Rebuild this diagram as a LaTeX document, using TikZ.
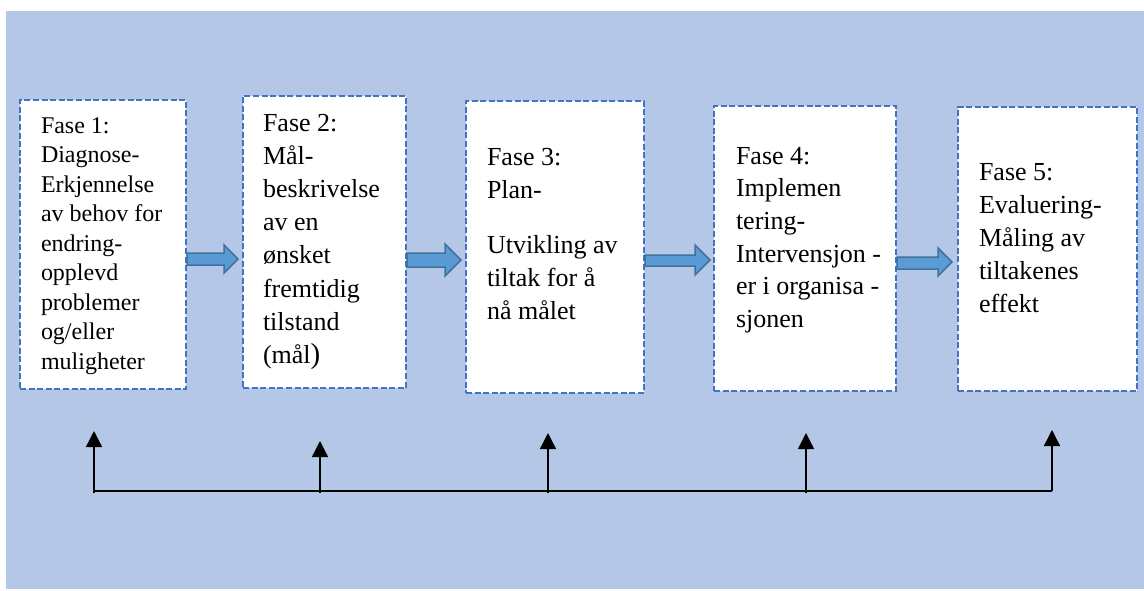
\documentclass[tikz,border=0pt]{standalone}
\usepackage{fontspec}
\setmainfont{Liberation Serif}[Ligatures=TeX]
\newfontfamily\tnr{Liberation Serif}
\usetikzlibrary{arrows.meta}
\definecolor{bgblue}{HTML}{B4C7E7}
\definecolor{boxborder}{HTML}{4472C4}
\definecolor{arrfill}{HTML}{5B9BD5}
\definecolor{arrdraw}{HTML}{41719C}
\tikzset{
  fasebox/.style={draw=boxborder, fill=white, line width=2.6pt, dash pattern=on 6pt off 2.6pt, anchor=north west, inner sep=0pt, outer sep=0pt},
  fasetxt/.style={anchor=base west, inner sep=0pt, outer sep=0pt, font=\tnr},
  barrow/.style={fill=arrfill, draw=arrdraw, line width=1.5pt, line join=miter},
  fb/.style={draw=black, line width=1.4pt},
  fbarrow/.style={fb, -{Triangle[width=16pt,length=16pt]}}
}
\begin{document}
\begin{tikzpicture}[x=1pt,y=-1pt]
\useasboundingbox (0,0) rectangle (1144,590);
\fill[bgblue] (6,11) rectangle (1144,589);

% boxes
\node[fasebox, minimum width=166pt, minimum height=289pt] (b1) at (20,100) {};
\node[fasebox, minimum width=163pt, minimum height=292pt] (b2) at (243,96) {};
\node[fasebox, minimum width=178pt, minimum height=292pt] (b3) at (466,101) {};
\node[fasebox, minimum width=182pt, minimum height=285pt] (b4) at (714,106) {};
\node[fasebox, minimum width=179pt, minimum height=284pt] (b5) at (958,107) {};

% texts
\node[fasetxt] (t1) at (41,133) {\parbox[t]{150pt}{\tnr\fontsize{24}{29.5}\selectfont\raggedright
Fase 1:\\ Diagnose-\\ Erkjennelse\\ av behov for\\ endring-\\ opplevd\\ problemer\\ og/eller\\ muligheter}};
\node[fasetxt] (t2) at (263,131) {\parbox[t]{140pt}{\tnr\fontsize{26}{33.2}\selectfont\raggedright
Fase 2:\\ Mål-\\ beskrivelse\\ av en\\ ønsket\\ fremtidig\\ tilstand\\ (mål{\fontsize{29}{33}\selectfont )}}};
\node[fasetxt] (t3) at (487,165) {\parbox[t]{155pt}{\tnr\fontsize{26}{33}\selectfont\raggedright
Fase 3:\\ Plan-\\[22pt] Utvikling av\\ tiltak for å\\ nå målet}};
\node[fasetxt] (t4) at (736,164) {\parbox[t]{158pt}{\tnr\fontsize{26}{32.7}\selectfont\raggedright
Fase 4:\\ Implemen\\ tering-\\ Intervensjon -\\ er i organisa -\\ sjonen}};
\node[fasetxt] (t5) at (979,180) {\parbox[t]{155pt}{\tnr\fontsize{26}{33}\selectfont\raggedright
Fase 5:\\ Evaluering-\\ Måling av\\ tiltakenes\\ effekt}};

% block arrows between boxes
\draw[barrow] (187,253) -- (224,253) -- (224,245) -- (238,259) -- (224,273) -- (224,265) -- (187,265) -- cycle;
\draw[barrow] (407,253) -- (445,253) -- (445,244) -- (461,260) -- (445,276) -- (445,267) -- (407,267) -- cycle;
\draw[barrow] (645,255) -- (695,255) -- (695,245) -- (710,260) -- (695,275) -- (695,266) -- (645,266) -- cycle;
\draw[barrow] (897,257) -- (938,257) -- (938,248) -- (952,262) -- (938,276) -- (938,269) -- (897,269) -- cycle;

% feedback line
\coordinate (f1) at (94,491);
\coordinate (f2) at (320,491);
\coordinate (f3) at (548,491);
\coordinate (f4) at (806,491);
\coordinate (f5) at (1052,491);
\coordinate (u1) at (94,431);
\coordinate (u2) at (320,441);
\coordinate (u3) at (548,433);
\coordinate (u4) at (806,433);
\coordinate (u5) at (1052,430);
\draw[fb] (f1) -- (f5);
\draw[fbarrow] ([yshift=-2pt]f1) -- (u1);
\draw[fbarrow] ([yshift=-2pt]f2) -- (u2);
\draw[fbarrow] ([yshift=-2pt]f3) -- (u3);
\draw[fbarrow] ([yshift=-2pt]f4) -- (u4);
\draw[fbarrow] (f5) -- (u5);
\end{tikzpicture}
\end{document}
